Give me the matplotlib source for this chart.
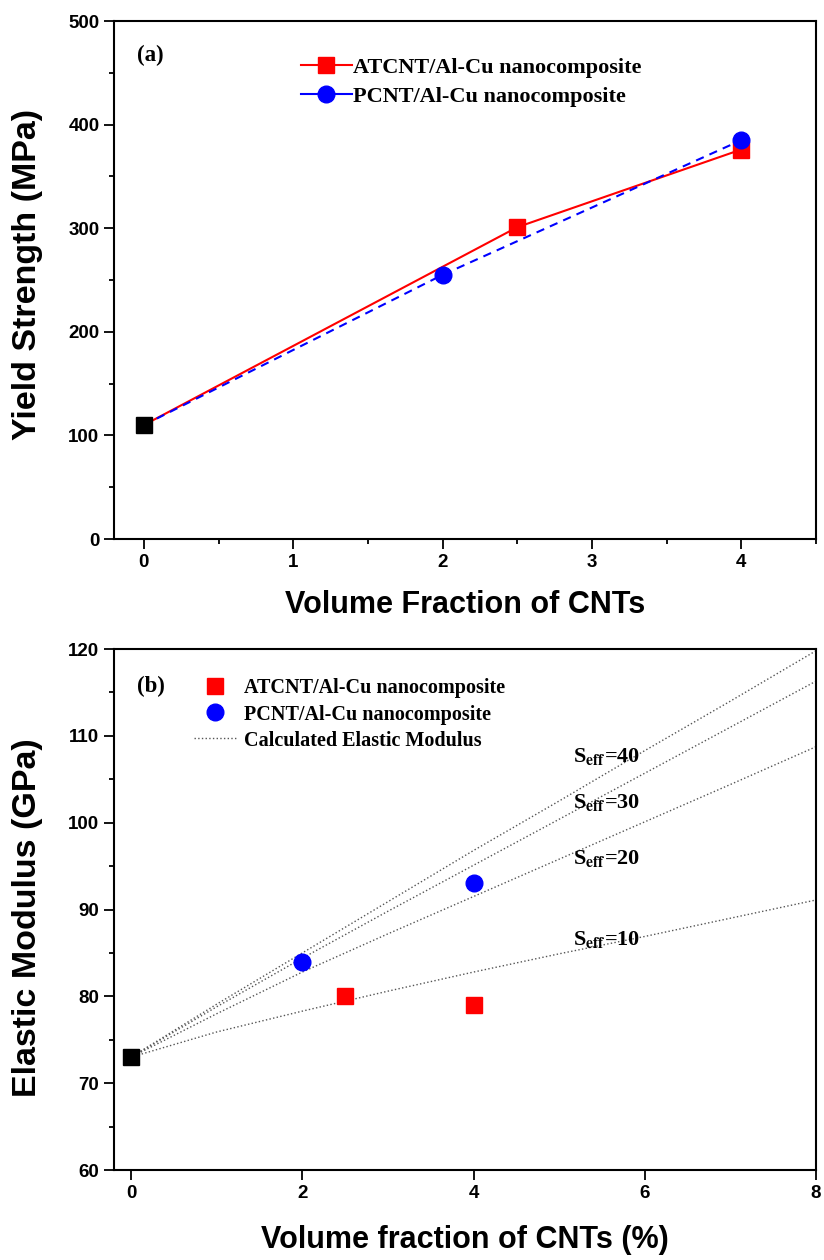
import matplotlib
matplotlib.use("Agg")
import matplotlib.pyplot as plt
from matplotlib.ticker import MultipleLocator
from matplotlib.lines import Line2D

plt.rcParams['mathtext.fontset'] = 'stix'

# (a) yield strength
matrix_x = [0]
matrix_ys = [110]
at_x = [0, 2.5, 4]
at_ys = [110, 301, 376]
p_x = [0, 2, 4]
p_ys = [110, 255, 385]

# (b) elastic modulus
matrix_e = [73]
at_e_x = [2.5, 4]
at_e = [80, 79]
p_e_x = [2, 4]
p_e = [84, 93]
calc_x = [0, 1, 2, 3, 4, 5, 6, 7, 8]
s10 = [73, 75.9, 78.3, 80.6, 82.8, 84.9, 86.9, 89.0, 91.1]
s20 = [73, 78.0, 82.8, 87.2, 91.5, 95.8, 100.1, 104.4, 108.75]
s30 = [73, 78.8, 84.4, 89.8, 95.1, 100.4, 105.7, 111.0, 116.3]
s40 = [73, 79.1, 85.0, 90.9, 96.8, 102.5, 108.3, 114.0, 119.8]
s_labels = ['40', '30', '20', '10']
s_label_y = [107.6, 102.3, 95.9, 86.5]

sans = ['Liberation Sans', 'DejaVu Sans']
serif = ['Liberation Serif', 'DejaVu Serif']

fig = plt.figure(figsize=(8.24, 12.6), dpi=100)
ax1 = fig.add_axes([0.1383, 0.5722, 0.852, 0.4111])
ax2 = fig.add_axes([0.1383, 0.0714, 0.852, 0.4135])


def style(ax):
    for s in ax.spines.values():
        s.set_linewidth(1.5)
    ax.tick_params(which='major', direction='out', length=7, width=1.3,
                   labelsize=13.5, top=False, right=False)
    ax.tick_params(which='minor', direction='out', length=3.5, width=1.3,
                   top=False, right=False)
    for lab in ax.get_xticklabels() + ax.get_yticklabels():
        lab.set_family(sans)
        lab.set_fontweight('bold')
    ax.xaxis.label.set_va('center')
    ax.yaxis.label.set_va('center')


# ---- panel (a)
ax1.plot(at_x, at_ys, '-', color='red', lw=1.5, zorder=2)
ax1.plot(p_x, p_ys, '--', color='blue', lw=1.5, dashes=(4, 3), zorder=2)
ax1.plot(at_x[1:], at_ys[1:], 's', color='red', ms=11, zorder=3)
ax1.plot(p_x[1:], p_ys[1:], 'o', color='blue', ms=12, zorder=4)
ax1.plot(matrix_x, matrix_ys, 's', color='black', ms=11, zorder=5)
ax1.set_xlim(-0.2, 4.5)
ax1.set_ylim(0, 500)
ax1.xaxis.set_major_locator(MultipleLocator(1))
ax1.xaxis.set_minor_locator(MultipleLocator(0.5))
ax1.yaxis.set_major_locator(MultipleLocator(100))
ax1.yaxis.set_minor_locator(MultipleLocator(50))
ax1.set_xlabel('Volume Fraction of CNTs', fontsize=22, fontweight='bold', family=sans)
ax1.set_ylabel('Yield Strength (MPa)', fontsize=24.5, fontweight='bold', family=sans)
style(ax1)
ax1.xaxis.set_label_coords(0.5, -0.127)
ax1.yaxis.set_label_coords(-0.1225, 0.51)
ax1.text(0.033, 0.934, '(a)', transform=ax1.transAxes, fontsize=16.5,
         fontweight='bold', family=serif, va='center')
h1 = [Line2D([], [], color='red', lw=1.5, marker='s', ms=11),
      Line2D([], [], color='blue', lw=1.5, marker='o', ms=12)]
ax1.legend(h1, ['ATCNT/Al-Cu nanocomposite', 'PCNT/Al-Cu nanocomposite'],
           loc='upper left', bbox_to_anchor=(0.266, 0.930), frameon=False,
           handlelength=2.3, handletextpad=0.05, borderpad=0, borderaxespad=0,
           labelspacing=0.37, prop={'family': serif, 'weight': 'bold', 'size': 16})

# ---- panel (b)
for ys in (s10, s20, s30, s40):
    ax2.plot(calc_x, ys, ':', color='#555555', lw=1.0, zorder=1)
ax2.plot(at_e_x, at_e, 's', color='red', ms=11, zorder=3)
ax2.plot(p_e_x, p_e, 'o', color='blue', ms=12, zorder=3)
ax2.plot(matrix_x, matrix_e, 's', color='black', ms=11, zorder=4)
for lab, y in zip(s_labels, s_label_y):
    ax2.text(5.16, y, 'S$_{\\mathbf{eff}}$=' + lab, fontsize=16, fontweight='bold',
             family=serif, va='center', ha='left')
ax2.set_xlim(-0.2, 8)
ax2.set_ylim(60, 120)
ax2.xaxis.set_major_locator(MultipleLocator(2))
ax2.yaxis.set_major_locator(MultipleLocator(10))
ax2.yaxis.set_minor_locator(MultipleLocator(5))
ax2.set_xlabel('Volume fraction of CNTs (%)', fontsize=22, fontweight='bold', family=sans)
ax2.set_ylabel('Elastic Modulus (GPa)', fontsize=24.5, fontweight='bold', family=sans)
style(ax2)
ax2.xaxis.set_label_coords(0.5, -0.134)
ax2.yaxis.set_label_coords(-0.1225, 0.484)
ax2.text(0.033, 0.929, '(b)', transform=ax2.transAxes, fontsize=16.5,
         fontweight='bold', family=serif, va='center')
h2 = [Line2D([], [], color='red', lw=0, marker='s', ms=11),
      Line2D([], [], color='blue', lw=0, marker='o', ms=12),
      Line2D([], [], color='#555555', lw=1.0, ls=':')]
ax2.legend(h2, ['ATCNT/Al-Cu nanocomposite', 'PCNT/Al-Cu nanocomposite',
                'Calculated Elastic Modulus'],
           loc='upper left', bbox_to_anchor=(0.114, 0.9435), frameon=False,
           handlelength=2.1, handletextpad=0.4, borderpad=0, borderaxespad=0,
           labelspacing=0.3, prop={'family': serif, 'weight': 'bold', 'size': 14.5})

fig.savefig('out.png', dpi=100)
